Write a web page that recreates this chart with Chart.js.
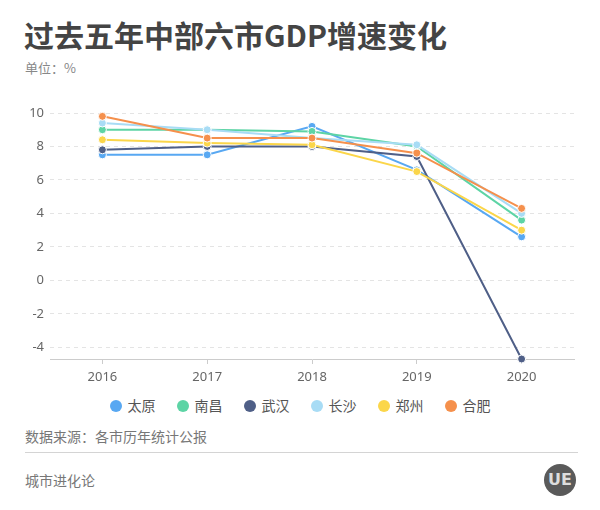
<!DOCTYPE html>
<html>
<head>
<meta charset="utf-8">
<script src="https://cdn.jsdelivr.net/npm/chart.js@4"></script>
<style>
  body { margin: 0; background: #fff; font-family: "Noto Sans CJK SC", "Noto Sans", sans-serif; }
  #page { position: relative; width: 600px; height: 510px; overflow: hidden; }
  .title { position: absolute; left: 24px; top: 12px; font-size: 30px; font-weight: bold; color: #444; }
  .unit { position: absolute; left: 25px; top: 58px; font-size: 13px; color: #888; }
  #chartBox { position: absolute; left: 0; top: 90px; width: 600px; height: 300px; }
  #legend { position: absolute; left: 0; top: 395px; width: 600px; text-align: center; font-size: 14px; color: #555; }
  #legend span.item { display: inline-block; margin: 0 10.5px; }
  #legend span.dot { display: inline-block; width: 12px; height: 12px; border-radius: 50%; vertical-align: -1px; margin-right: 6px; }
  .source { position: absolute; left: 25px; top: 426px; font-size: 14px; color: #777; }
  .rule { position: absolute; left: 25px; top: 452px; width: 553px; height: 1px; background: #d4d4d4; }
  .brand { position: absolute; left: 25px; top: 470px; font-size: 14px; color: #777; }
  .logo { position: absolute; left: 544px; top: 464px; width: 32px; height: 32px; border-radius: 50%; background: #5a5a5a; color: #ddd; font: bold 16px "DejaVu Sans", sans-serif; text-align: center; line-height: 32px; }
</style>
</head>
<body>
<div id="page">
  <div class="title">过去五年中部六市GDP增速变化</div>
  <div class="unit">单位：%</div>
  <div id="chartBox"><canvas id="myChart"></canvas></div>
  <div id="legend"></div>
  <div class="source">数据来源：各市历年统计公报</div>
  <div class="rule"></div>
  <div class="brand">城市进化论</div>
  <div class="logo">UE</div>
</div>
<script>
const years = ['2016', '2017', '2018', '2019', '2020'];
const cities = ['太原', '南昌', '武汉', '长沙', '郑州', '合肥'];
const colors = ['#58a8f2', '#5dd4a5', '#4f5f87', '#a8dcf5', '#fbd64a', '#f5904c'];

const taiyuan = [7.5, 7.5, 9.2, 6.6, 2.6];
const nanchang = [9.0, 9.0, 8.9, 8.0, 3.6];
const wuhan = [7.8, 8.0, 8.0, 7.4, -4.7];
const changsha = [9.4, 9.0, 8.5, 8.1, 4.0];
const zhengzhou = [8.4, 8.2, 8.1, 6.5, 3.0];
const hefei = [9.8, 8.5, 8.5, 7.6, 4.3];

const yMin = -4.7;
const yMax = 10;

function buildDatasets() {
  const series = [taiyuan, nanchang, wuhan, changsha, zhengzhou, hefei];
  return series.map((values, i) => ({
    label: cities[i],
    data: values,
    borderColor: colors[i],
    backgroundColor: colors[i],
    pointBackgroundColor: colors[i],
    pointBorderColor: '#fff',
    pointBorderWidth: 1,
    pointRadius: 4,
    borderWidth: 2,
    tension: 0,
    clip: false,
    // later cities are drawn on top
    order: series.length - i
  }));
}

function buildLegend() {
  const legend = document.getElementById('legend');
  legend.innerHTML = '';
  cities.forEach((name, i) => {
    const item = document.createElement('span');
    item.className = 'item';
    item.innerHTML = '<span class="dot" style="background:' + colors[i] + '"></span>' + name;
    legend.appendChild(item);
  });
}

function drawChart() {
  const ctx = document.getElementById('myChart').getContext('2d');
  new Chart(ctx, {
    type: 'line',
    data: {
      labels: years,
      datasets: buildDatasets()
    },
    options: {
      responsive: true,
      maintainAspectRatio: false,
      animation: false,
      layout: { padding: { top: 23, right: 26, left: 0, bottom: 0 } },
      plugins: {
        legend: { display: false },
        tooltip: { enabled: false }
      },
      scales: {
        x: {
          offset: true,
          afterFit: scale => { scale.height = 31; },
          grid: { display: true, drawOnChartArea: false, drawTicks: true, tickLength: 5, color: '#ccc' },
          border: { display: true, color: '#ccc' },
          ticks: { color: '#666', padding: 5, font: { size: 13, family: '"Noto Sans", sans-serif' } }
        },
        y: {
          min: yMin,
          max: yMax,
          afterFit: scale => { scale.width = 50; },
          grid: { color: '#e4e4e4', drawTicks: false },
          border: { display: false, dash: [4, 4] },
          ticks: { stepSize: 2, includeBounds: false, color: '#666', padding: 6, font: { size: 13, family: '"Noto Sans", sans-serif' } }
        }
      }
    }
  });
}

window.onload = function () {
  buildLegend();
  drawChart();
};
</script>
</body>
</html>
